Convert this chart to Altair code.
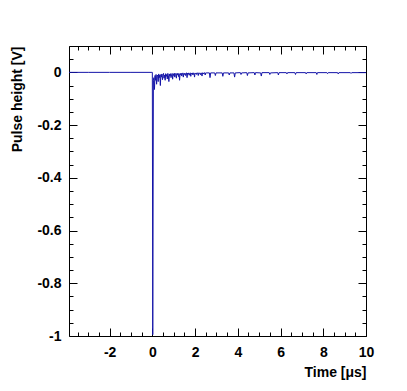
import altair as alt
import pandas as pd

# ---- data ----
# baseline and the fast negative pulse
t_pulse = [-3.9, -3.0, -2.0, -1.0, -0.02, 0.0, 0.02, 0.05]
v_pulse = [0.0, 0.0, 0.0, 0.0, 0.0, 0.0, -0.995, -0.03]

# dense ringing after the pulse
t_ring = [0.075, 0.1, 0.125, 0.15, 0.175, 0.2, 0.225, 0.25, 0.275, 0.3,
          0.325, 0.35, 0.375, 0.4, 0.425, 0.45, 0.475, 0.5, 0.525, 0.55,
          0.575, 0.6, 0.625, 0.65, 0.675, 0.7, 0.725, 0.75, 0.775, 0.8,
          0.825, 0.85, 0.875, 0.9, 0.925, 0.95, 0.975, 1.0, 1.025, 1.05,
          1.075, 1.1, 1.125, 1.15, 1.175, 1.2, 1.225, 1.25, 1.275, 1.3,
          1.325, 1.35, 1.375, 1.4, 1.425, 1.45, 1.475, 1.5, 1.525, 1.55,
          1.575, 1.6, 1.625, 1.65, 1.675, 1.7, 1.725, 1.75, 1.775, 1.8,
          1.825, 1.85, 1.875, 1.9, 1.925, 1.95, 1.975, 2.0, 2.025, 2.05,
          2.075, 2.1, 2.125, 2.15, 2.175, 2.2, 2.225, 2.25, 2.275, 2.3,
          2.325, 2.35, 2.375, 2.4, 2.425, 2.45, 2.475, 2.5]
v_ring = [-0.020, -0.065, -0.012, -0.030, -0.008, -0.045, -0.015, -0.010, -0.035, -0.006,
          -0.020, -0.010, -0.050, -0.008, -0.018, -0.006, -0.028, -0.012, -0.004, -0.022,
          -0.010, -0.030, -0.005, -0.015, -0.008, -0.025, -0.004, -0.012, -0.035, -0.006,
          -0.014, -0.005, -0.020, -0.009, -0.004, -0.026, -0.006, -0.012, -0.003, -0.018,
          -0.008, -0.004, -0.022, -0.005, -0.010, -0.003, -0.016, -0.006, -0.030, -0.004,
          -0.009, -0.003, -0.014, -0.005, -0.002, -0.018, -0.004, -0.008, -0.003, -0.012,
          -0.004, -0.002, -0.020, -0.003, -0.007, -0.002, -0.011, -0.004, -0.002, -0.015,
          -0.003, -0.006, -0.002, -0.010, -0.003, -0.002, -0.018, -0.003, -0.005, -0.002,
          -0.008, -0.002, -0.003, -0.012, -0.002, -0.004, -0.002, -0.009, -0.002, -0.003,
          -0.014, -0.002, -0.002, -0.006, -0.001, -0.002, -0.010, -0.002]

# quiet tail with isolated small spikes
t_tail = [2.55, 2.67, 2.70, 2.73, 2.92, 2.95, 2.98, 3.27, 3.30, 3.33,
          3.57, 3.60, 3.63, 3.82, 3.85, 3.88, 4.12, 4.15, 4.18, 4.42,
          4.45, 4.48, 4.77, 4.80, 4.83, 5.07, 5.10, 5.13, 5.47, 5.50,
          5.53, 5.87, 5.90, 5.93, 6.27, 6.30, 6.33, 6.67, 6.70, 6.73,
          7.17, 7.20, 7.23, 7.67, 7.70, 7.73, 8.17, 8.20, 8.23, 8.67,
          8.70, 8.73, 9.27, 9.30, 9.33, 10.0]
v_tail = [-0.002, -0.002, -0.020, -0.002, -0.002, -0.012, -0.002, -0.002, -0.015, -0.002,
          -0.002, -0.010, -0.002, -0.002, -0.018, -0.002, -0.001, -0.008, -0.002, -0.001,
          -0.012, -0.002, -0.001, -0.010, -0.001, -0.002, -0.014, -0.001, -0.001, -0.008,
          -0.002, -0.001, -0.010, -0.001, -0.001, -0.006, -0.001, -0.001, -0.008, -0.001,
          -0.001, -0.006, -0.001, -0.001, -0.008, -0.001, -0.001, -0.005, -0.001, -0.001,
          -0.006, -0.001, -0.001, -0.004, -0.001, -0.001]

x_major = [-2, 0, 2, 4, 6, 8, 10]
x_ticks = [-3.5, -3.0, -2.5, -2.0, -1.5, -1.0, -0.5, 0.0, 0.5, 1.0, 1.5, 2.0,
           2.5, 3.0, 3.5, 4.0, 4.5, 5.0, 5.5, 6.0, 6.5, 7.0, 7.5, 8.0, 8.5,
           9.0, 9.5, 10.0]
y_major = [-1, -0.8, -0.6, -0.4, -0.2, 0]
y_ticks = [-1.0, -0.95, -0.9, -0.85, -0.8, -0.75, -0.7, -0.65, -0.6, -0.55,
           -0.5, -0.45, -0.4, -0.35, -0.3, -0.25, -0.2, -0.15, -0.1, -0.05,
           0.0, 0.05, 0.1]

df = pd.DataFrame({"t": t_pulse + t_ring + t_tail,
                   "v": v_pulse + v_ring + v_tail})

W, H = 297, 290
FONT = "Liberation Sans"
xs = alt.Scale(domain=[-3.9, 10], nice=False, zero=False)
ys = alt.Scale(domain=[-1, 0.1], nice=False, zero=False)

x_major_test = "abs(datum.value/2 - round(datum.value/2)) < 0.001"
y_major_test = "abs(datum.value*5 - round(datum.value*5)) < 0.001"


def tick_axis(orient, values, test, offset):
    return alt.Axis(
        orient=orient, offset=offset, values=values, labels=False, domain=False,
        grid=False, title=None, tickColor="black", tickWidth=1,
        tickSize={"condition": {"test": test, "value": 8}, "value": 4},
    )


line = alt.Chart(df).mark_line(color="#1414a8", strokeWidth=1, clip=True).encode(
    x=alt.X("t:Q", scale=xs, sort=None, axis=alt.Axis(
        orient="bottom", values=x_major, ticks=False, domain=False, grid=False,
        labelExpr="toString(datum.value)",
        labelFont=FONT, labelFontWeight="bold", labelFontSize=14, labelColor="black",
        labelPadding=9, labelFlush=False,
        title="Time [μs]", titleFont=FONT, titleFontWeight="bold", titleFontSize=14,
        titleColor="black", titleX=W, titleY=36, titleAlign="right",
        titleBaseline="middle", titleAnchor="end")),
    y=alt.Y("v:Q", scale=ys, axis=alt.Axis(
        orient="left", values=y_major, ticks=False, domain=False, grid=False,
        labelExpr="toString(datum.value)",
        labelFont=FONT, labelFontWeight="bold", labelFontSize=14, labelColor="black",
        labelPadding=8, labelFlush=False,
        title="Pulse height [V]", titleFont=FONT, titleFontWeight="bold",
        titleFontSize=14, titleColor="black", titleX=-52, titleY=0,
        titleAngle=270, titleAlign="right", titleBaseline="middle",
        titleAnchor="end")),
    order="t:Q",
)

ticks_in_a = alt.Chart(df).mark_line(opacity=0).encode(
    x=alt.X("t:Q", scale=xs, axis=tick_axis("top", x_ticks, x_major_test, -H)),
    y=alt.Y("v:Q", scale=ys, axis=tick_axis("right", y_ticks, y_major_test, -W)),
)
ticks_in_b = alt.Chart(df).mark_line(opacity=0).encode(
    x=alt.X("t:Q", scale=xs, axis=tick_axis("bottom", x_ticks, x_major_test, -H)),
    y=alt.Y("v:Q", scale=ys, axis=tick_axis("left", y_ticks, y_major_test, -W)),
)

chart = alt.layer(line, ticks_in_a, ticks_in_b).resolve_axis(
    x="independent", y="independent"
).properties(
    width=W, height=H,
    autosize=alt.AutoSizeParams(type="none"),
    padding={"left": 61, "top": 38, "right": 33, "bottom": 47},
    background="white",
).configure_view(stroke="black", strokeWidth=1)

chart.save("out.html", embed_options={"renderer": "svg", "actions": False})
